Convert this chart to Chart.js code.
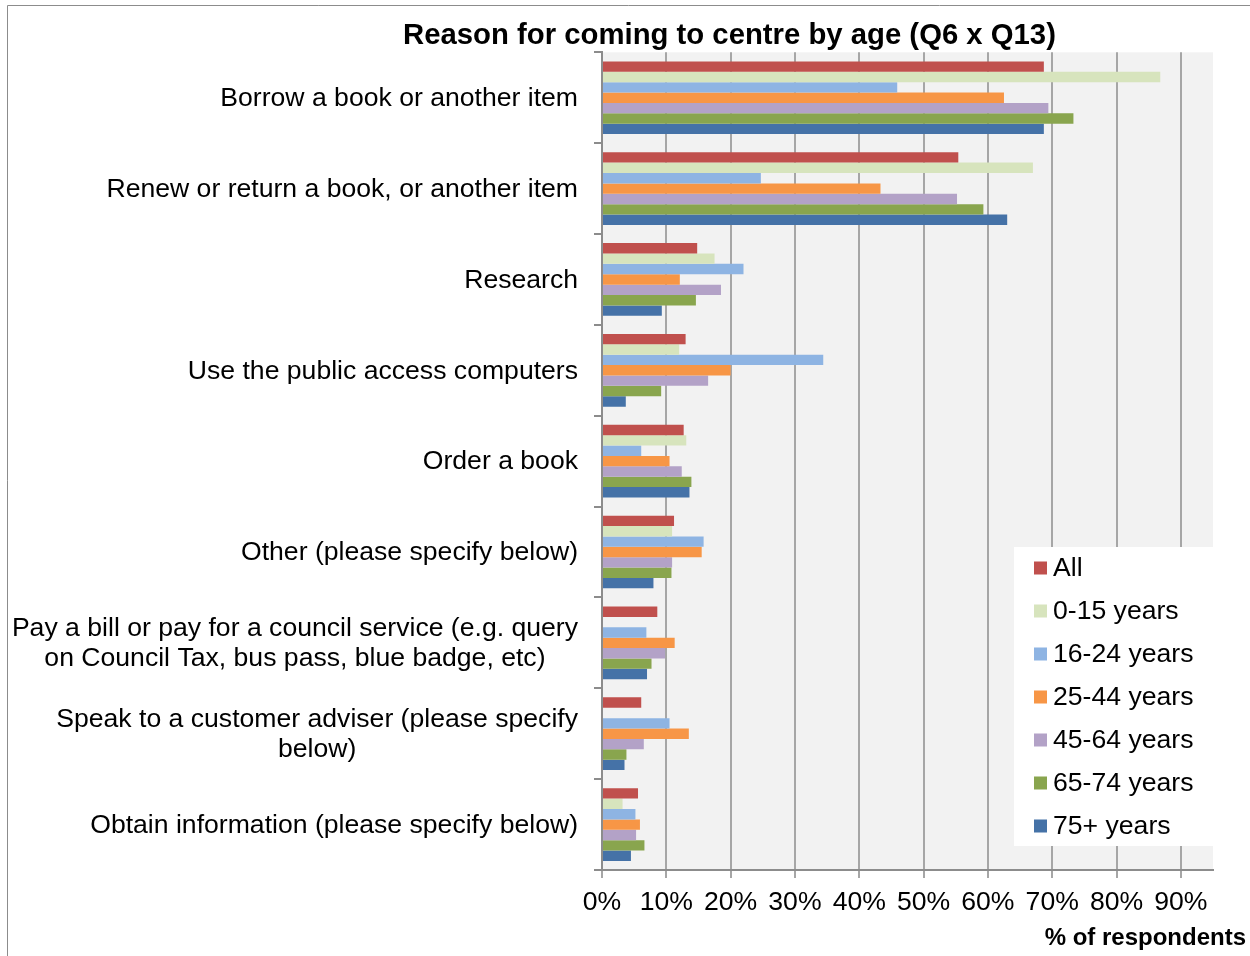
<!DOCTYPE html>
<html>
<head>
<meta charset="utf-8">
<script src="https://cdn.jsdelivr.net/npm/chart.js@4/dist/chart.umd.min.js"></script>
<style>
  html, body { margin: 0; padding: 0; background: #ffffff; }
  canvas { display: block; }
</style>
</head>
<body>
<canvas id="c" width="1250" height="956"></canvas>
<script>
// Reasons for visiting, one entry per row (multi-line labels as arrays)
const categories = [
  'Borrow a book or another item',
  'Renew or return a book, or another item',
  'Research',
  'Use the public access computers',
  'Order a book',
  'Other (please specify below)',
  ['Pay a bill or pay for a council service (e.g. query', 'on Council Tax, bus pass, blue badge, etc)'],
  ['Speak to a customer adviser (please specify', 'below)'],
  'Obtain information (please specify below)'
];

const seriesNames = ['All', '0-15 years', '16-24 years', '25-44 years', '45-64 years', '65-74 years', '75+ years'];
const seriesColors = ['#C0504D', '#D7E4BD', '#8EB4E3', '#F79646', '#B3A2C7', '#89A54E', '#4572A7'];

// Share of respondents (0–1) per reason, for each age group
const allAges   = [0.687, 0.554, 0.148, 0.130, 0.127, 0.112, 0.086, 0.061, 0.056];
const age0to15  = [0.868, 0.670, 0.175, 0.120, 0.131, 0.109, null,  null,  0.032];
const age16to24 = [0.459, 0.247, 0.220, 0.344, 0.061, 0.158, 0.069, 0.105, 0.052];
const age25to44 = [0.625, 0.433, 0.121, 0.200, 0.105, 0.155, 0.113, 0.135, 0.059];
const age45to64 = [0.694, 0.552, 0.185, 0.165, 0.124, 0.109, 0.098, 0.065, 0.053];
const age65to74 = [0.733, 0.593, 0.146, 0.092, 0.139, 0.108, 0.077, 0.038, 0.066];
const age75plus = [0.687, 0.630, 0.093, 0.037, 0.136, 0.080, 0.070, 0.035, 0.045];

// Value-axis ticks (shown as percentages) and axis extent
const xTickValues = [0, 0.1, 0.2, 0.3, 0.4, 0.5, 0.6, 0.7, 0.8, 0.9];
const xMax = 0.95;

const seriesValues = [allAges, age0to15, age16to24, age25to44, age45to64, age65to74, age75plus];

const FONT = '"Liberation Sans", Arial, sans-serif';
const LABEL_SIZE = 26.6;

// Outer frame and plot background
const framePlugin = {
  id: 'frame',
  beforeDraw(chart) {
    const ctx = chart.ctx;
    const a = chart.chartArea;
    ctx.save();
    ctx.fillStyle = '#ffffff';
    ctx.fillRect(0, 0, chart.width, chart.height);
    ctx.strokeStyle = '#8c8c8c';
    ctx.lineWidth = 1;
    ctx.beginPath();
    ctx.moveTo(7.5, chart.height);
    ctx.lineTo(7.5, 5.5);
    ctx.lineTo(chart.width, 5.5);
    ctx.stroke();
    ctx.fillStyle = '#f2f2f2';
    ctx.fillRect(a.left, a.top, a.right - a.left, a.bottom - a.top);
    ctx.restore();
  }
};

// Category labels: right-aligned blocks, lines centred within a block
const categoryLabelPlugin = {
  id: 'categoryLabels',
  afterDraw(chart) {
    const ctx = chart.ctx;
    const y = chart.scales.y;
    const rightEdge = chart.chartArea.left - 24;
    const lineH = 30;
    ctx.save();
    ctx.font = LABEL_SIZE + 'px ' + FONT;
    ctx.fillStyle = '#000000';
    ctx.textBaseline = 'middle';
    ctx.textAlign = 'center';
    chart.data.labels.forEach((lab, i) => {
      const lines = Array.isArray(lab) ? lab : [lab];
      const widest = Math.max(...lines.map(l => ctx.measureText(l).width));
      const cx = rightEdge - widest / 2;
      const cy = y.getPixelForValue(i) + 1;
      const y0 = cy - (lines.length - 1) * lineH / 2;
      lines.forEach((l, k) => ctx.fillText(l, cx, y0 + k * lineH));
    });
    ctx.restore();
  }
};

// Legend box drawn inside the plot, lower right
const legendBoxPlugin = {
  id: 'legendBox',
  afterDatasetsDraw(chart) {
    const ctx = chart.ctx;
    const a = chart.chartArea;
    const box = { left: 1014, top: 547, right: a.right, bottom: 846 };
    ctx.save();
    ctx.fillStyle = '#ffffff';
    ctx.fillRect(box.left, box.top, box.right - box.left, box.bottom - box.top);
    ctx.font = LABEL_SIZE + 'px ' + FONT;
    ctx.textBaseline = 'middle';
    ctx.textAlign = 'left';
    chart.data.datasets.forEach((ds, i) => {
      const cy = 568 + i * 43;
      ctx.fillStyle = ds.backgroundColor;
      ctx.fillRect(box.left + 20, cy - 6.5, 13, 13);
      ctx.fillStyle = '#000000';
      ctx.fillText(ds.label, box.left + 39, cy + 1);
    });
    ctx.restore();
  }
};

// Axis title under the value axis
const axisTitlePlugin = {
  id: 'axisTitle',
  afterDraw(chart) {
    const ctx = chart.ctx;
    ctx.save();
    ctx.font = 'bold 24px ' + FONT;
    ctx.fillStyle = '#000000';
    ctx.textAlign = 'right';
    ctx.textBaseline = 'middle';
    ctx.fillText('% of respondents', 1246, 938);
    ctx.restore();
  }
};

new Chart(document.getElementById('c'), {
  type: 'bar',
  data: {
    labels: categories,
    datasets: seriesNames.map((name, i) => ({
      label: name,
      data: seriesValues[i],
      backgroundColor: seriesColors[i],
      borderWidth: 0,
      categoryPercentage: 0.8,
      barPercentage: 1.0
    }))
  },
  options: {
    indexAxis: 'y',
    responsive: false,
    animation: false,
    devicePixelRatio: 1,
    layout: { padding: { left: 246, right: 37, top: 0, bottom: 0 } },
    plugins: {
      legend: { display: false },
      tooltip: { enabled: false },
      title: {
        display: true,
        text: 'Reason for coming to centre by age (Q6 x Q13)',
        color: '#000000',
        font: { family: FONT, size: 29.3, weight: 'bold', lineHeight: 1.0 },
        padding: { top: 21, bottom: 2 }
      }
    },
    scales: {
      x: {
        type: 'linear',
        position: 'bottom',
        min: 0,
        max: xMax,
        afterBuildTicks(scale) {
          scale.ticks = xTickValues.map(v => ({ value: v }));
        },
        afterFit(scale) { scale.height = 86; },
        ticks: {
          color: '#000000',
          padding: 9,
          font: { family: FONT, size: LABEL_SIZE },
          maxRotation: 0,
          autoSkip: false,
          callback: v => Math.round(v * 100) + '%'
        },
        grid: {
          color: '#a6a6a6',
          lineWidth: 2,
          tickLength: 8,
          tickColor: '#a6a6a6',
          drawTicks: true
        },
        border: { display: true, color: '#8c8c8c', width: 2 }
      },
      y: {
        type: 'category',
        position: 'left',
        offset: true,
        afterFit(scale) { scale.width = 356; },
        ticks: { display: false },
        grid: {
          offset: true,
          drawOnChartArea: false,
          drawTicks: true,
          tickLength: 8,
          color: '#8c8c8c',
          lineWidth: 2
        },
        border: { display: true, color: '#8c8c8c', width: 2 }
      }
    }
  },
  plugins: [framePlugin, categoryLabelPlugin, legendBoxPlugin, axisTitlePlugin]
});
</script>
</body>
</html>
